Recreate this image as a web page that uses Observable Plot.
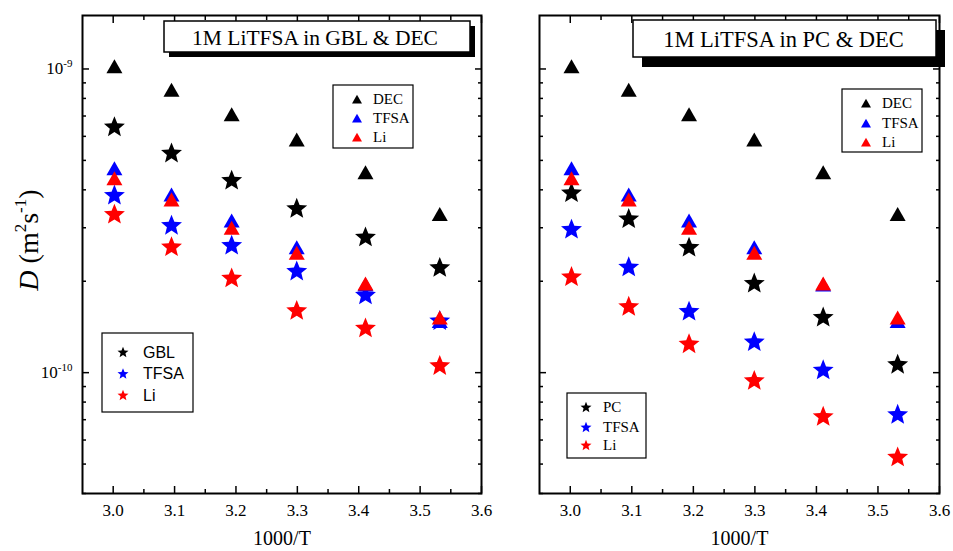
<!DOCTYPE html>
<html>
<head>
<meta charset="utf-8">
<script src="https://cdn.jsdelivr.net/npm/d3@7"></script>
<script src="https://cdn.jsdelivr.net/npm/@observablehq/plot@0.6"></script>
<style>
  body { margin: 0; background: #fff; }
  #wrap { position: relative; width: 953px; height: 551px; overflow: hidden; background: #fff; }
  #wrap svg { position: absolute; top: 0; overflow: visible; }
</style>
</head>
<body>
<div id="wrap"></div>
<script>
// ---------- data ----------
const invT = [3.002, 3.095, 3.193, 3.299, 3.411, 3.532];           // 1000/T

// DEC-side diffusion coefficients (triangles, same in both panels)
const decDEC  = [1.02e-9, 8.54e-10, 7.10e-10, 5.86e-10, 4.57e-10, 3.33e-10];
const decTFSA = [4.71e-10, 3.86e-10, 3.17e-10, 2.59e-10, 1.95e-10, 1.48e-10];
const decLi   = [4.37e-10, 3.72e-10, 3.00e-10, 2.48e-10, 1.965e-10, 1.52e-10];

// GBL panel (stars)
const gblSolvent = [6.48e-10, 5.31e-10, 4.32e-10, 3.49e-10, 2.81e-10, 2.23e-10];
const gblTFSA    = [3.86e-10, 3.07e-10, 2.64e-10, 2.17e-10, 1.81e-10, 1.49e-10];
const gblLi      = [3.34e-10, 2.61e-10, 2.06e-10, 1.61e-10, 1.41e-10, 1.06e-10];

// PC panel (stars)
const pcSolvent = [3.93e-10, 3.23e-10, 2.60e-10, 1.98e-10, 1.53e-10, 1.07e-10];
const pcTFSA    = [2.98e-10, 2.24e-10, 1.60e-10, 1.27e-10, 1.026e-10, 7.32e-11];
const pcLi      = [2.08e-10, 1.66e-10, 1.25e-10, 9.47e-11, 7.21e-11, 5.30e-11];

const xMajor = [3.0, 3.1, 3.2, 3.3, 3.4, 3.5, 3.6];
const xMinor = [3.05, 3.15, 3.25, 3.35, 3.45, 3.55];
const yMajor = [1e-10, 1e-9];
const yMinor = [4e-11, 5e-11, 6e-11, 7e-11, 8e-11, 9e-11,
                2e-10, 3e-10, 4e-10, 5e-10, 6e-10, 7e-10, 8e-10, 9e-10];

const titles = ["1M LiTFSA in GBL & DEC", "1M LiTFSA in PC & DEC"];
const starNamesGBL = ["GBL", "TFSA", "Li"];
const starNamesPC = ["PC", "TFSA", "Li"];
const triNames = ["DEC", "TFSA", "Li"];
const seriesColors = ["#000000", "#0000ff", "#ff0000"];
const xLabel = "1000/T";

// ---------- symbols ----------
const triSym = {
  draw(ctx, size) {
    const r = Math.sqrt(size / Math.PI);
    const h = r * 1.75;
    ctx.moveTo(0, -h / 2);
    ctx.lineTo(r, h / 2);
    ctx.lineTo(-r, h / 2);
    ctx.closePath();
  }
};
const starSym = {
  draw(ctx, size) {
    const R = Math.sqrt(size / Math.PI);
    const ri = R * 0.44;
    const off = R * (1 - Math.cos(Math.PI / 5)) / 2;
    for (let i = 0; i < 10; i++) {
      const rr = i % 2 ? ri : R;
      const a = -Math.PI / 2 + i * Math.PI / 5;
      const x = rr * Math.cos(a), y = rr * Math.sin(a) + off;
      if (i) ctx.lineTo(x, y); else ctx.moveTo(x, y);
    }
    ctx.closePath();
  }
};

const toRows = (vals) => invT.map((x, i) => ({x, y: vals[i]}));
const serif = "Liberation Serif, Times New Roman, Times, serif";
const sans = "Liberation Sans, Arial, Helvetica, sans-serif";

function axisMarks(showYLabels) {
  const tick = {strokeWidth: 1.5, label: null, fontFamily: serif, fontSize: 17};
  const blank = () => "";
  return [
    Plot.axisX(xMajor, {...tick, anchor: "bottom", tickSize: -7, tickPadding: 17, tickFormat: d3.format(".1f")}),
    Plot.axisX(xMinor, {...tick, anchor: "bottom", tickSize: -4, tickFormat: blank}),
    Plot.axisX(xMajor, {...tick, anchor: "top", tickSize: -7, tickFormat: blank}),
    Plot.axisX(xMinor, {...tick, anchor: "top", tickSize: -4, tickFormat: blank}),
    Plot.axisY(yMajor, {...tick, anchor: "left", tickSize: -7, tickPadding: 17,
      tickFormat: showYLabels ? (d => "10^" + Math.round(Math.log10(d))) : blank}),
    Plot.axisY(yMinor, {...tick, anchor: "left", tickSize: -4, tickFormat: blank}),
    Plot.axisY(yMajor, {...tick, anchor: "right", tickSize: -7, tickFormat: blank}),
    Plot.axisY(yMinor, {...tick, anchor: "right", tickSize: -4, tickFormat: blank})
  ];
}

function makePanel(cfg) {
  const marks = [];
  // stars first (solvent, TFSA, Li), then triangles on top
  cfg.stars.forEach((vals, i) => {
    marks.push(Plot.dot(toRows(vals), {x: "x", y: "y", r: 11, symbol: starSym, fill: seriesColors[i], stroke: "none"}));
  });
  [decDEC, decTFSA, decLi].forEach((vals, i) => {
    marks.push(Plot.dot(toRows(vals), {x: "x", y: "y", r: 8, symbol: triSym, fill: seriesColors[i], stroke: "none"}));
  });
  marks.push(...axisMarks(cfg.showYLabels));
  marks.push(Plot.frame({stroke: "black", strokeWidth: 2}));
  marks.push(Plot.text([xLabel], {text: d => d, frameAnchor: "bottom", dy: 51, fontSize: 20, fontFamily: serif, fill: "black"}));

  const svg = Plot.plot({
    width: cfg.width,
    height: 551,
    marginLeft: cfg.marginLeft,
    marginRight: cfg.marginRight,
    marginTop: 15,
    marginBottom: 58,
    x: {domain: [2.95, 3.6]},
    y: {type: "log", domain: [4e-11, 1.5e-9]},
    style: {fontFamily: serif, fontSize: "17px", color: "black", background: "transparent", overflow: "visible"},
    marks
  });
  svg.style.left = cfg.left + "px";
  const s = d3.select(svg);
  s.attr("font-family", serif);
  s.selectAll('g[aria-label$="tick label"]').attr("font-family", serif).attr("font-size", 17).attr("fill", "black");

  // superscript tick labels
  s.selectAll('g[aria-label="y-axis tick label"] text').each(function () {
    const t = d3.select(this);
    const str = t.text();
    if (!str.includes("^")) return;
    const [base, exp] = str.split("^");
    t.text(null);
    t.append("tspan").text(base);
    t.append("tspan").attr("dy", -7).attr("font-size", 11).text(exp);
  });

  // title box with shadow
  const tb = cfg.titleBox;
  s.append("rect").attr("x", tb.x + tb.sx).attr("y", tb.y + tb.sy).attr("width", tb.w).attr("height", tb.h).attr("fill", "black");
  s.append("rect").attr("x", tb.x).attr("y", tb.y).attr("width", tb.w).attr("height", tb.h)
    .attr("fill", "white").attr("stroke", "black").attr("stroke-width", 1.5);
  s.append("text").attr("x", tb.tx).attr("y", tb.ty).attr("text-anchor", "middle")
    .attr("font-family", serif).attr("font-size", tb.fs).attr("fill", "black").text(cfg.title);

  // legends
  function legend(L, names, sym, symR) {
    s.append("rect").attr("x", L.x).attr("y", L.y).attr("width", L.w).attr("height", L.h)
      .attr("fill", "white").attr("stroke", "black").attr("stroke-width", 1.2);
    names.forEach((n, i) => {
      const cy = L.rows[i];
      s.append("path").attr("transform", `translate(${L.mx},${cy})`)
        .attr("d", d3.symbol(sym, symR * symR * Math.PI)()).attr("fill", seriesColors[i]);
      s.append("text").attr("x", L.tx).attr("y", cy).attr("dy", "0.35em").attr("text-anchor", "start")
        .attr("font-family", L.font).attr("font-size", L.fs).attr("fill", "black").text(n);
    });
  }
  legend(cfg.triLegend, triNames, triSym, 5);
  legend(cfg.starLegend, cfg.starNames, starSym, 5.8);

  // y label
  if (cfg.showYLabels) {
    const yl = s.append("text").attr("transform", "translate(38,240) rotate(-90)")
      .attr("text-anchor", "middle").attr("font-family", serif).attr("font-size", 28).attr("fill", "black");
    yl.append("tspan").attr("font-style", "italic").text("D");
    yl.append("tspan").text(" (m");
    yl.append("tspan").attr("dy", -12).attr("font-size", 17).text("2");
    yl.append("tspan").attr("dy", 12).text("s");
    yl.append("tspan").attr("dy", -12).attr("font-size", 17).text("-1");
    yl.append("tspan").attr("dy", 12).text(")");
  }
  document.getElementById("wrap").appendChild(svg);
}

makePanel({
  left: 0, width: 483, marginLeft: 82, marginRight: 2, showYLabels: true,
  stars: [gblSolvent, gblTFSA, gblLi], starNames: starNamesGBL, title: titles[0],
  titleBox: {x: 164, y: 21, w: 306, h: 31, sx: 5, sy: 5, tx: 315, ty: 45, fs: 21.5},
  triLegend: {x: 333, y: 85, w: 80, h: 63, rows: [99, 118, 137], mx: 357, tx: 373, font: serif, fs: 15},
  starLegend: {x: 102, y: 333, w: 91, h: 79, rows: [352, 373.5, 395], mx: 123, tx: 143, font: sans, fs: 16}
});
makePanel({
  left: 483, width: 470, marginLeft: 56, marginRight: 14, showYLabels: false,
  stars: [pcSolvent, pcTFSA, pcLi], starNames: starNamesPC, title: titles[1],
  titleBox: {x: 150, y: 20, w: 303, h: 37, sx: 9, sy: 10, tx: 300.5, ty: 47, fs: 22.5},
  triLegend: {x: 359, y: 89, w: 80, h: 63, rows: [103, 123, 142], mx: 383, tx: 399, font: serif, fs: 15},
  starLegend: {x: 84, y: 393, w: 79, h: 65, rows: [407, 427, 445], mx: 103, tx: 120, font: serif, fs: 15}
});
</script>
</body>
</html>
